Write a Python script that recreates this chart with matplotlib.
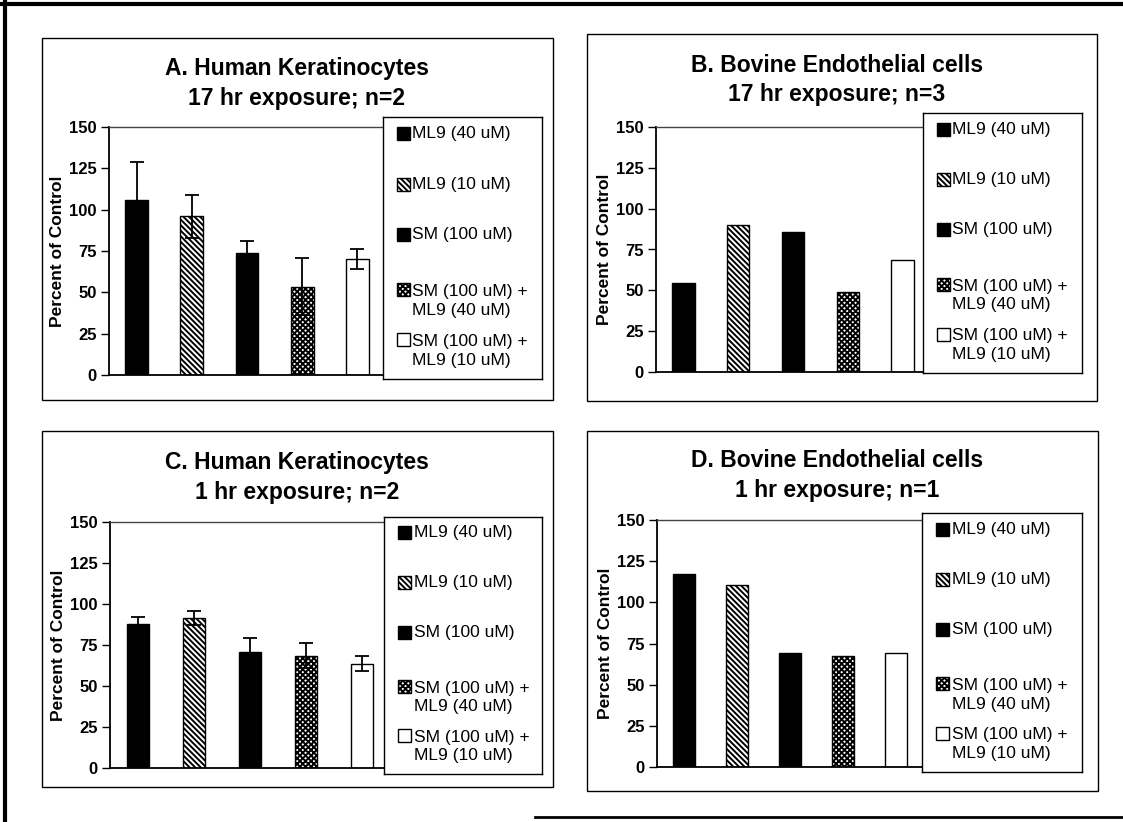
import matplotlib.pyplot as plt
from matplotlib.patches import Rectangle
from matplotlib.lines import Line2D
import numpy as np

plt.rcParams['font.family'] = ['Liberation Sans', 'DejaVu Sans']
plt.rcParams['hatch.linewidth'] = 1.4

# data
labels = ['ML9 (40 uM)', 'ML9 (10 uM)', 'SM (100 uM)',
          'SM (100 uM) +\nML9 (40 uM)', 'SM (100 uM) +\nML9 (10 uM)']
titles = [('A. Human Keratinocytes', '17 hr exposure; n=2'),
          ('B. Bovine Endothelial cells', '17 hr exposure; n=3'),
          ('C. Human Keratinocytes', '1 hr exposure; n=2'),
          ('D. Bovine Endothelial cells', '1 hr exposure; n=1')]
vals_a = [106, 96, 73.5, 53.5, 70]
err_a = [23, 13, 7.5, 17, 6]
vals_b = [54.5, 90, 86, 49, 68.5]
vals_c = [88, 91.5, 70.5, 68.5, 63.5]
err_c = [4, 4, 8.5, 7.5, 4.5]
vals_d = [117, 110.5, 69.5, 67.5, 69.5]
yticks = [0, 25, 50, 75, 100, 125, 150]

# bar styles (face, hatch)
styles = [('black', ''), ('white', '\\\\\\\\\\\\'), ('black', ''),
          ('white', 'xxxxxx'), ('white', '')]

W, H = 1123, 822
fig = plt.figure(figsize=(W / 100, H / 100), dpi=100)


def fx(x):
    return x / W


def fy(y):
    return 1 - y / H


def px_axes(l, t, r, b):
    return fig.add_axes([fx(l), fy(b), (r - l) / W, (b - t) / H])


# layout in pixels: box, axes, legend, title centre x, title line y's
panels = [
    dict(box=(42, 38, 553, 400), ax=(109, 127, 385, 375), leg=(383, 117, 542, 379),
         tx=297, ty=(68, 98), vals=vals_a, err=err_a),
    dict(box=(587, 34, 1097, 401), ax=(656, 127, 930, 372), leg=(923, 113, 1082, 373),
         tx=837, ty=(65, 95), vals=vals_b, err=None),
    dict(box=(42, 431, 553, 787), ax=(110, 522, 390, 768), leg=(384, 517, 542, 774),
         tx=297, ty=(462, 492), vals=vals_c, err=err_c),
    dict(box=(587, 431, 1098, 791), ax=(657, 520, 923, 767), leg=(922, 513, 1082, 772),
         tx=837, ty=(460, 490), vals=vals_d, err=None),
]

label_yf = [0.062, 0.256, 0.450, 0.702, 0.893]
handle_yf = [0.062, 0.256, 0.450, 0.660, 0.851]

for p, (t1, t2) in zip(panels, titles):
    l, t, r, b = p['box']
    fig.add_artist(Rectangle((fx(l), fy(b)), (r - l) / W, (b - t) / H,
                             transform=fig.transFigure, fill=False,
                             ec='black', lw=1.0))
    fig.text(fx(p['tx']), fy(p['ty'][0]), t1, ha='center', va='center',
             fontsize=16.5, fontweight='bold')
    fig.text(fx(p['tx']), fy(p['ty'][1]), t2, ha='center', va='center',
             fontsize=16.5, fontweight='bold')

    al, at, ar, ab = p['ax']
    ax = px_axes(al, at, ar, ab)
    x = np.arange(len(p['vals']))
    for i, v in enumerate(p['vals']):
        face, hatch = styles[i]
        ax.bar(x[i], v, 0.41, facecolor=face, edgecolor='black',
               hatch=hatch, lw=1.0, zorder=2)
    if p['err'] is not None:
        ax.errorbar(x, p['vals'], yerr=p['err'], fmt='none', ecolor='black',
                    elinewidth=1.3, capsize=5, capthick=1.3, zorder=3)
    ax.set_xlim(-0.5, 4.5)
    ax.set_ylim(0, 150)
    ax.set_xticks([])
    ax.set_yticks(yticks)
    ax.set_yticklabels([str(v) for v in yticks], fontsize=12, fontweight='bold')
    ax.tick_params(axis='y', direction='out', length=6, width=1, pad=3)
    ax.spines['right'].set_visible(False)
    ax.spines['top'].set_color('#444444')
    ax.spines['top'].set_linewidth(1.0)
    ax.spines['left'].set_linewidth(1.3)
    ax.spines['bottom'].set_linewidth(1.3)
    ax.set_ylabel('Percent of Control', fontsize=12.5, fontweight='bold')
    ax.yaxis.set_label_coords(-44 / (ar - al), 0.5)

    # legend box
    ll, lt, lr, lb = p['leg']
    lw_, lh = lr - ll, lb - lt
    lax = px_axes(ll, lt, lr, lb)
    lax.set_xlim(0, lw_)
    lax.set_ylim(lh, 0)
    lax.set_xticks([])
    lax.set_yticks([])
    for s in lax.spines.values():
        s.set_linewidth(1.0)
    for i, lab in enumerate(labels):
        face, hatch = styles[i]
        hy = handle_yf[i] * lh
        lax.add_patch(Rectangle((14, hy - 6.5), 13, 13, facecolor=face,
                                edgecolor='black', hatch=hatch, lw=1.0))
        lax.text(29.5, label_yf[i] * lh, lab, ha='left', va='center',
                 fontsize=12.5, linespacing=1.3)

# outer frame
fig.add_artist(Line2D([0, 1], [fy(4), fy(4)], transform=fig.transFigure,
                      color='black', lw=3))
fig.add_artist(Line2D([fx(5), fx(5)], [0, 1], transform=fig.transFigure,
                      color='black', lw=3))
fig.add_artist(Line2D([fx(535), 1], [fy(817), fy(817)], transform=fig.transFigure,
                      color='black', lw=2))

fig.savefig('out.png', dpi=100)
